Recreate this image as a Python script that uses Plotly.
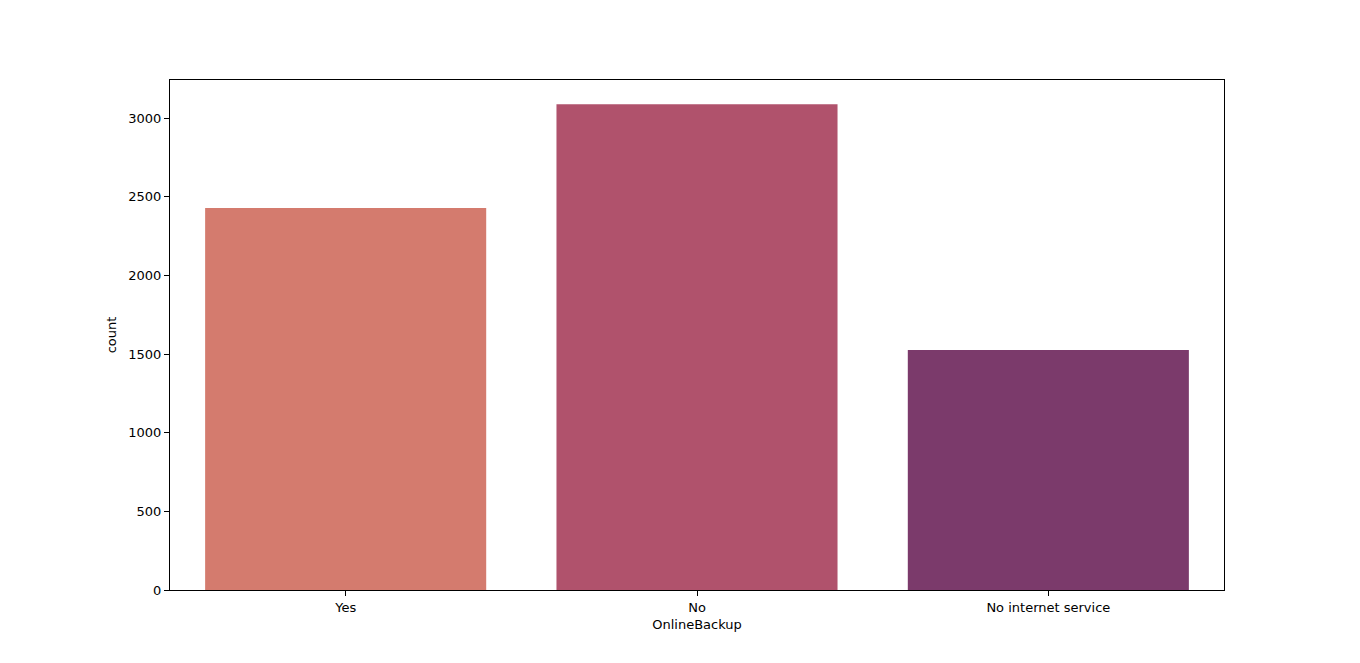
import plotly.graph_objects as go

categories = ["Yes", "No", "No internet service"]
counts = [2429, 3088, 1526]
colors = ["#d47b6e", "#b0526c", "#7b3a6b"]

fig = go.Figure(go.Bar(x=categories, y=counts, marker=dict(color=colors, line=dict(width=0)), width=0.8))

W, H = 1360, 663
off = 8  # default page body margin
fig.update_layout(
    width=W, height=H,
    paper_bgcolor="white", plot_bgcolor="white",
    margin=dict(l=170 - off, r=W - 1224 + off, t=80 - off, b=H - 590 + off, pad=0),
    font=dict(family="DejaVu Sans", size=13, color="black"),
    showlegend=False,
    bargap=0.2,
)
fig.update_xaxes(
    range=[-0.5, 2.5], showline=True, linecolor="black", linewidth=1, mirror=True,
    ticks="outside", ticklen=5, tickcolor="black", showgrid=False,
    title=dict(text="OnlineBackup", standoff=6, font=dict(size=13)),
    tickfont=dict(size=13),
)
fig.update_yaxes(
    range=[0, 3242.4], showline=True, linecolor="black", linewidth=1, mirror=True,
    ticks="outside", ticklen=5, tickcolor="black", showgrid=False, zeroline=False,
    tickvals=[0, 500, 1000, 1500, 2000, 2500, 3000],
    title=dict(text="count", standoff=8, font=dict(size=13)),
    tickfont=dict(size=13),
)
fig.write_html("out.html")
